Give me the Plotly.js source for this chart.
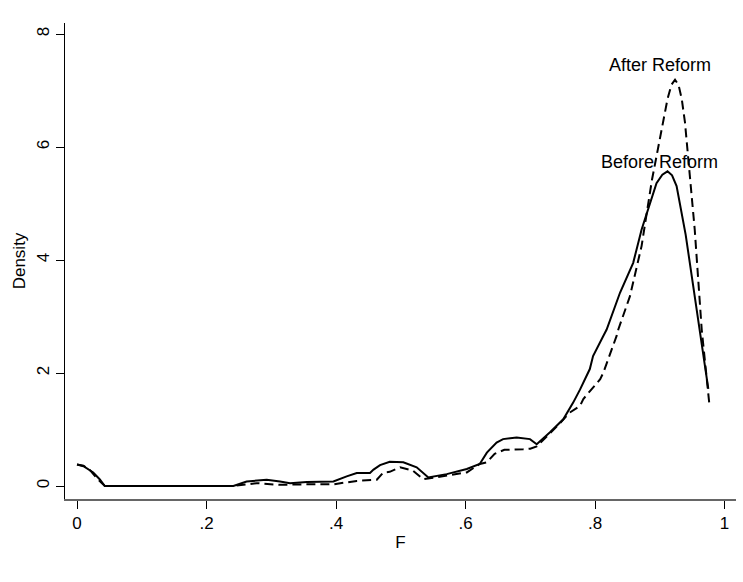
<!DOCTYPE html>
<html>
<head>
<meta charset="utf-8">
<script src="https://cdn.plot.ly/plotly-3.0.1.min.js"></script>
<style>html,body{margin:0;padding:0;background:#fff;}#chart{width:743px;height:582px;}</style>
</head>
<body>
<div id="chart"></div>
<script>
// Before Reform (solid)
var beforeX = [0, 0.01, 0.025, 0.035, 0.043, 0.1, 0.2, 0.2415, 0.262, 0.293, 0.3135, 0.329, 0.355, 0.396, 0.4165, 0.432, 0.4525, 0.458, 0.468, 0.483, 0.504, 0.5246, 0.5426, 0.571, 0.602, 0.622, 0.633, 0.648, 0.658, 0.679, 0.6996, 0.71, 0.7305, 0.751, 0.7665, 0.777, 0.792, 0.797, 0.813, 0.818, 0.8386, 0.859, 0.872, 0.877, 0.886, 0.895, 0.904, 0.912, 0.919, 0.926, 0.94, 0.955, 0.9725, 0.975];
var beforeY = [0.38, 0.35, 0.24, 0.12, 0, 0, 0, 0, 0.08, 0.11, 0.08, 0.05, 0.07, 0.08, 0.17, 0.23, 0.23, 0.29, 0.37, 0.43, 0.42, 0.33, 0.15, 0.21, 0.30, 0.39, 0.59, 0.77, 0.83, 0.86, 0.83, 0.74, 0.95, 1.18, 1.48, 1.71, 2.07, 2.30, 2.66, 2.77, 3.42, 3.95, 4.54, 4.72, 5.08, 5.36, 5.51, 5.57, 5.5, 5.31, 4.45, 3.30, 1.95, 1.72];
// After Reform (dashed)
var afterX = [0, 0.01, 0.02, 0.032, 0.043, 0.1, 0.2, 0.24, 0.2775, 0.3135, 0.355, 0.396, 0.432, 0.463, 0.473, 0.483, 0.499, 0.519, 0.535, 0.571, 0.602, 0.622, 0.633, 0.645, 0.66, 0.689, 0.70, 0.71, 0.73, 0.745, 0.756, 0.761, 0.777, 0.782, 0.808, 0.813, 0.8335, 0.836, 0.854, 0.872, 0.888, 0.90, 0.912, 0.918, 0.9236, 0.929, 0.934, 0.939, 0.949, 0.954, 0.9648, 0.9766];
var afterY = [0.38, 0.36, 0.28, 0.12, 0, 0, 0, 0, 0.05, 0.02, 0.03, 0.03, 0.09, 0.11, 0.24, 0.25, 0.33, 0.27, 0.12, 0.18, 0.24, 0.39, 0.42, 0.57, 0.64, 0.65, 0.66, 0.70, 0.92, 1.10, 1.24, 1.30, 1.42, 1.54, 1.89, 2.01, 2.66, 2.77, 3.36, 4.25, 5.42, 6.13, 6.85, 7.1, 7.19, 7.1, 6.85, 6.43, 5.25, 4.54, 2.77, 1.45];
var xTickVals = [0, 0.2, 0.4, 0.6, 0.8, 1];
var xTickText = ["0", ".2", ".4", ".6", ".8", "1"];
var yTickVals = [0, 2, 4, 6, 8];
var yTickText = ["0", "2", "4", "6", "8"];
var labelText = ["After Reform", "Before Reform"];
var labelX = [0.9004, 0.9];
var labelY = [7.45, 5.73];

var FONT = "Liberation Sans, Arial, sans-serif";
var traces = [
  {x: beforeX, y: beforeY, type: "scatter", mode: "lines", line: {color: "#000", width: 2}, name: "Before Reform", hoverinfo: "skip"},
  {x: afterX, y: afterY, type: "scatter", mode: "lines", line: {color: "#000", width: 2, dash: "9px,5px"}, name: "After Reform", hoverinfo: "skip"}
];
var annotations = labelText.map(function(t, i) {
  return {x: labelX[i], y: labelY[i], xref: "x", yref: "y", text: t, showarrow: false, font: {family: FONT, size: 18, color: "#000"}, xanchor: "center", yanchor: "middle"};
});
var layout = {
  width: 743, height: 582,
  margin: {l: 65, r: 7, t: 23, b: 83},
  paper_bgcolor: "#fff", plot_bgcolor: "#fff",
  showlegend: false,
  font: {family: FONT, size: 17, color: "#000"},
  xaxis: {
    range: [-0.01853, 1.01776], tickvals: xTickVals, ticktext: xTickText,
    showgrid: false, zeroline: false, showline: true, linecolor: "#666", linewidth: 1.5,
    ticks: "outside", ticklen: 8, tickcolor: "#000", tickwidth: 1,
    tickfont: {family: FONT, size: 17, color: "#000"},
    title: {text: "F", font: {family: FONT, size: 17, color: "#000"}, standoff: 4},
    automargin: false
  },
  yaxis: {
    range: [-0.2301, 8.1947], tickvals: yTickVals, ticktext: yTickText,
    showgrid: false, zeroline: false, showline: true, linecolor: "#000", linewidth: 1.5,
    ticks: "outside", ticklen: 8, tickcolor: "#000", tickwidth: 1, tickangle: -90,
    tickfont: {family: FONT, size: 17, color: "#000"},
    title: {text: "Density", font: {family: FONT, size: 17, color: "#000"}, standoff: 4},
    automargin: false
  },
  annotations: annotations
};
Plotly.newPlot("chart", traces, layout, {displayModeBar: false, staticPlot: true});
</script>
</body>
</html>
